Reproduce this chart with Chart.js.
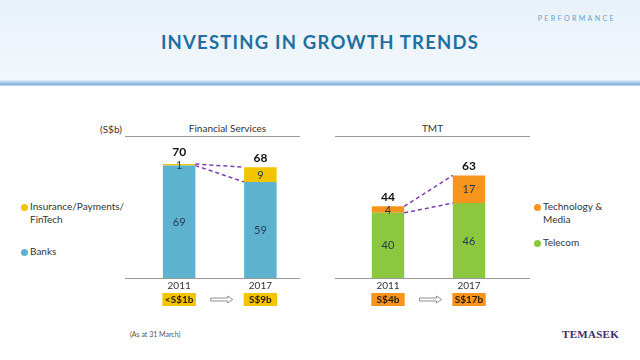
<!DOCTYPE html>
<html><head><meta charset="utf-8">
<script src="https://cdn.jsdelivr.net/npm/chart.js@4/dist/chart.umd.min.js"></script>
<style>
html,body{margin:0;padding:0;width:640px;height:360px;overflow:hidden;background:#fff;font-family:Lato,"Open Sans",sans-serif;}
#hdr{position:absolute;left:0;top:0;width:640px;height:80px;background:linear-gradient(#e8f1fa,#f2f7fc);}
#band{position:absolute;left:0;top:80px;width:640px;height:6px;background:linear-gradient(#e3eef8,#a9c9e8 45%,#7eaed9 70%,#cfe1f2);}
#title{position:absolute;left:0;top:31px;width:640px;text-align:center;font:bold 18.5px Lato,sans-serif;letter-spacing:1.2px;color:#1f6f9f;}
#perf{position:absolute;right:24px;top:14px;font:7px Lato,sans-serif;letter-spacing:2.4px;color:#5fa3cf;}
.abs{position:absolute;}
.txt{font-size:10px;color:#333;white-space:nowrap;}
.line{position:absolute;height:1px;background:#9a9a9a;}
.dot{position:absolute;width:7px;height:7px;border-radius:50%;}
canvas{position:absolute;}
</style></head><body>
<div id="hdr"></div><div id="band"></div>
<div id="title">INVESTING IN GROWTH TRENDS</div>
<div id="perf">PERFORMANCE</div>

<div class="abs txt" style="left:100px;top:123px;">(S$b)</div>
<div class="abs txt" id="fsHead" style="left:125px;width:205px;top:122px;text-align:center;"></div>
<div class="line" style="left:125px;width:175px;top:136px;"></div>
<div class="line" style="left:125px;width:175px;top:278px;"></div>

<div class="abs txt" id="tmtHead" style="left:335px;width:195px;top:122px;text-align:center;"></div>
<div class="line" style="left:335px;width:195px;top:136px;"></div>
<div class="line" style="left:335px;width:195px;top:278px;"></div>

<div id="legL"></div><div id="legR"></div>

<canvas id="fs" width="220" height="200" style="left:100px;top:110px;width:220px;height:200px;"></canvas>
<canvas id="tmt" width="210" height="200" style="left:330px;top:110px;width:210px;height:200px;"></canvas>

<div class="abs" style="left:130px;top:330px;font-size:7px;color:#555;">(As at 31 March)</div>
<div class="abs" style="left:562px;top:328px;font:bold 11px 'Liberation Serif',serif;color:#3d2b6b;letter-spacing:0.3px;">TEMASEK</div>

<script>
// ---- data ----
const fsTitle = 'Financial Services';
const fsCategories = ['2011', '2017'];
const fsBanks = [69, 59];
const fsInsurance = [1, 9];
const fsTotals = [70, 68];
const fsBadges = ['<S$1b', 'S$9b'];

const tmtTitle = 'TMT';
const tmtCategories = ['2011', '2017'];
const tmtTelecom = [40, 46];
const tmtTechMedia = [4, 17];
const tmtTotals = [44, 63];
const tmtBadges = ['S$4b', 'S$17b'];

const seriesNames = {
  insurance: ['Insurance/Payments/', 'FinTech'],
  banks: ['Banks'],
  tech: ['Technology &', 'Media'],
  telecom: ['Telecom']
};

const C = {banks:'#5db2cf', ins:'#f2c500', tech:'#f7941d', tel:'#8dc63f', dash:'#7e3fae'};

document.getElementById('fsHead').textContent = fsTitle;
document.getElementById('tmtHead').textContent = tmtTitle;

function legend(el, items, left) {
  let h = '';
  items.forEach(it => {
    h += `<div class="dot" style="left:${left}px;top:${it.y - 3.5}px;background:${it.color}"></div>`;
    it.lines.forEach((ln, i) => {
      h += `<div class="abs txt" style="left:${left + 9}px;top:${it.y - 7 + i * 13}px;">${ln}</div>`;
    });
  });
  document.getElementById(el).innerHTML = h;
}
legend('legL', [{y:207, color:C.ins, lines:seriesNames.insurance}, {y:252, color:C.banks, lines:seriesNames.banks}], 21);
legend('legR', [{y:207, color:C.tech, lines:seriesNames.tech}, {y:243, color:C.tel, lines:seriesNames.telecom}], 534);

const annot = {
  id: 'annot',
  afterDatasetsDraw(chart, args, opts) {
    const ctx = chart.ctx;
    const metas = chart.data.datasets.map((d, i) => chart.getDatasetMeta(i));
    const bottom = chart.chartArea.bottom;
    ctx.save();
    // dashed connectors
    ctx.strokeStyle = C.dash; ctx.lineWidth = 1.5; ctx.setLineDash([4, 3]);
    metas.forEach(m => {
      const a = m.data[0], b = m.data[1];
      ctx.beginPath();
      ctx.moveTo(a.x + a.width / 2, a.y);
      ctx.lineTo(b.x - b.width / 2, b.y);
      ctx.stroke();
    });
    ctx.setLineDash([]);
    // segment labels
    ctx.textAlign = 'center'; ctx.textBaseline = 'middle';
    ctx.font = '11px Lato, sans-serif'; ctx.fillStyle = '#1f3a4f';
    metas.forEach((m, di) => {
      m.data.forEach((el, i) => {
        const v = chart.data.datasets[di].data[i];
        ctx.fillText(String(v), el.x, (el.y + el.base) / 2 + 0.5);
      });
    });
    // totals
    ctx.font = 'bold 12px Lato, sans-serif'; ctx.fillStyle = '#111';
    const top = metas[metas.length - 1];
    top.data.forEach((el, i) => {
      const off = (chart.data.datasets[metas.length - 1].data[i] < 2) ? 12 : 9;
      ctx.fillText(String(opts.totals[i]), el.x, el.y - off);
    });
    // year labels + badges
    metas[0].data.forEach((el, i) => {
      ctx.font = '10px Lato, sans-serif'; ctx.fillStyle = '#333';
      ctx.fillText(chart.data.labels[i], el.x, bottom + 8);
      const w = el.width + 1, x0 = el.x - w / 2, y0 = bottom + 15;
      ctx.fillStyle = opts.badgeColor;
      ctx.fillRect(x0, y0, w, 13);
      ctx.font = 'bold 10px Lato, sans-serif'; ctx.fillStyle = '#2a1a00';
      ctx.fillText(opts.badges[i], el.x, y0 + 7);
    });
    // hollow arrow between badges
    const a = metas[0].data[0], b = metas[0].data[1];
    const mx = (a.x + b.x) / 2 + 2, y = bottom + 21.5;
    ctx.strokeStyle = '#777'; ctx.lineWidth = 0.8;
    ctx.beginPath();
    ctx.moveTo(mx - 11, y - 1.5); ctx.lineTo(mx + 6, y - 1.5); ctx.lineTo(mx + 6, y - 3.5);
    ctx.lineTo(mx + 11, y); ctx.lineTo(mx + 6, y + 3.5); ctx.lineTo(mx + 6, y + 1.5);
    ctx.lineTo(mx - 11, y + 1.5); ctx.closePath();
    ctx.stroke();
    ctx.restore();
  }
};

function makeChart(id, labels, bottomSet, topSet, pad, totals, badges, badgeColor) {
  return new Chart(document.getElementById(id), {
    type: 'bar',
    data: {
      labels: labels,
      datasets: [
        {label: bottomSet.name, data: bottomSet.data, backgroundColor: bottomSet.color, barPercentage: 0.4, categoryPercentage: 1},
        {label: topSet.name, data: topSet.data, backgroundColor: topSet.color, barPercentage: 0.4, categoryPercentage: 1}
      ]
    },
    options: {
      responsive: false, animation: false, devicePixelRatio: 1,
      layout: {padding: pad},
      scales: {
        x: {stacked: true, display: false},
        y: {stacked: true, display: false, min: 0, max: 80}
      },
      plugins: {legend: {display: false}, tooltip: {enabled: false},
        annot: {totals: totals, badges: badges, badgeColor: badgeColor}}
    },
    plugins: [annot]
  });
}

makeChart('fs', fsCategories,
  {name: 'Banks', data: fsBanks, color: C.banks},
  {name: 'Insurance/Payments/FinTech', data: fsInsurance, color: C.ins},
  {left: 38.5, right: 19, top: 37.7, bottom: 32}, fsTotals, fsBadges, C.ins);

makeChart('tmt', tmtCategories,
  {name: 'Telecom', data: tmtTelecom, color: C.tel},
  {name: 'Technology & Media', data: tmtTechMedia, color: C.tech},
  {left: 17.5, right: 30.5, top: 37.7, bottom: 32}, tmtTotals, tmtBadges, C.tech);
</script>
</body></html>
